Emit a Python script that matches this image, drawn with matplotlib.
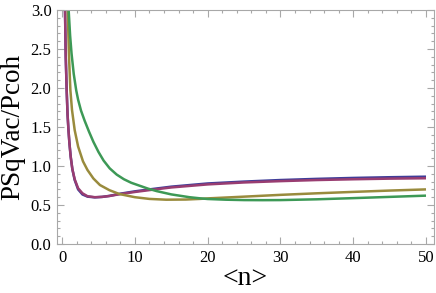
import matplotlib
matplotlib.use("Agg")
import matplotlib.pyplot as plt
from matplotlib.ticker import MultipleLocator

# Curve data
n_blue = [0.40, 0.50, 0.63, 0.75, 0.87, 1.0, 1.18, 1.41, 1.73, 2.2, 2.8, 3.5, 4.5, 5.5, 6.5, 8, 10, 12, 15, 20, 25, 30, 35, 40, 45, 50]
v_blue = [3.0, 2.40, 1.97, 1.66, 1.47, 1.30, 1.12, 0.96, 0.82, 0.70, 0.635, 0.607, 0.598, 0.604, 0.617, 0.645, 0.675, 0.70, 0.735, 0.776, 0.80, 0.82, 0.835, 0.847, 0.856, 0.863]

n_mag = [0.40, 0.50, 0.63, 0.75, 0.87, 1.0, 1.18, 1.41, 1.73, 2.2, 2.8, 3.5, 4.5, 5.5, 6.5, 8, 10, 12, 15, 20, 25, 30, 35, 40, 45, 50]
v_mag = [3.0, 2.40, 1.97, 1.66, 1.47, 1.30, 1.12, 0.96, 0.83, 0.715, 0.65, 0.612, 0.600, 0.604, 0.615, 0.640, 0.667, 0.691, 0.725, 0.764, 0.789, 0.806, 0.82, 0.83, 0.838, 0.843]

n_olive = [0.77, 0.95, 1.14, 1.36, 1.73, 2.2, 2.87, 3.48, 4.3, 5.2, 6.5, 7.9, 10, 12, 14.3, 17, 18.9, 20.3, 25, 30, 35, 40, 45, 50]
v_olive = [3.0, 2.40, 1.97, 1.72, 1.46, 1.25, 1.06, 0.95, 0.84, 0.756, 0.69, 0.64, 0.60, 0.578, 0.568, 0.570, 0.578, 0.586, 0.607, 0.63, 0.65, 0.668, 0.685, 0.70]

n_green = [0.9, 1.1, 1.3, 1.6, 1.94, 2.2, 2.6, 3.1, 3.7, 4.3, 5.0, 5.7, 6.54, 7.5, 8.5, 9.5, 10.66, 11.8, 13, 15, 17.5, 18.9, 20, 22.5, 25, 27.5, 30, 35, 40, 45, 50]
v_green = [3.0, 2.675, 2.44, 2.18, 1.97, 1.85, 1.71, 1.58, 1.44, 1.31, 1.18, 1.07, 0.97, 0.89, 0.83, 0.785, 0.747, 0.71, 0.678, 0.636, 0.60, 0.586, 0.577, 0.568, 0.563, 0.562, 0.563, 0.573, 0.588, 0.604, 0.62]

x_ticks = [0, 10, 20, 30, 40, 50]
y_ticks = [0.0, 0.5, 1.0, 1.5, 2.0, 2.5, 3.0]

fig = plt.figure(figsize=(4.36, 2.93), dpi=100)
ax = fig.add_axes([57/436, 49/293, 377/436, 234/293])

lw = 1.8
ax.plot(n_blue, v_blue, color="#3F3D99", lw=lw, solid_capstyle="butt")
ax.plot(n_mag, v_mag, color="#993D71", lw=lw, solid_capstyle="butt")
ax.plot(n_olive, v_olive, color="#998B3D", lw=lw, solid_capstyle="butt")
ax.plot(n_green, v_green, color="#3D9956", lw=lw, solid_capstyle="butt")

ax.set_xlim(-0.7, 51.1)
ax.set_ylim(0, 3.0)
ax.set_xticks(x_ticks)
ax.set_yticks(y_ticks)
ax.set_yticklabels([f"{t:.1f}" for t in y_ticks])
ax.xaxis.set_minor_locator(MultipleLocator(2))
ax.yaxis.set_minor_locator(MultipleLocator(0.1))

frame_col = "#a8a8a8"
for s in ax.spines.values():
    s.set_color(frame_col)
    s.set_linewidth(0.8)

ax.tick_params(which="both", direction="in", top=True, right=True, color=frame_col, width=0.8)
ax.tick_params(which="major", length=5, pad=4)
ax.tick_params(which="minor", length=2.5)

serif = "Liberation Serif"
for lab in ax.get_xticklabels() + ax.get_yticklabels():
    lab.set_family(serif)
    lab.set_fontsize(12)
    lab.set_color("black")

ax.set_xlabel("<n>", family=serif, fontsize=20, labelpad=0)
ax.set_ylabel("PSqVac/Pcoh", family=serif, fontsize=19.5, labelpad=4)

fig.savefig("out.png", dpi=100)
